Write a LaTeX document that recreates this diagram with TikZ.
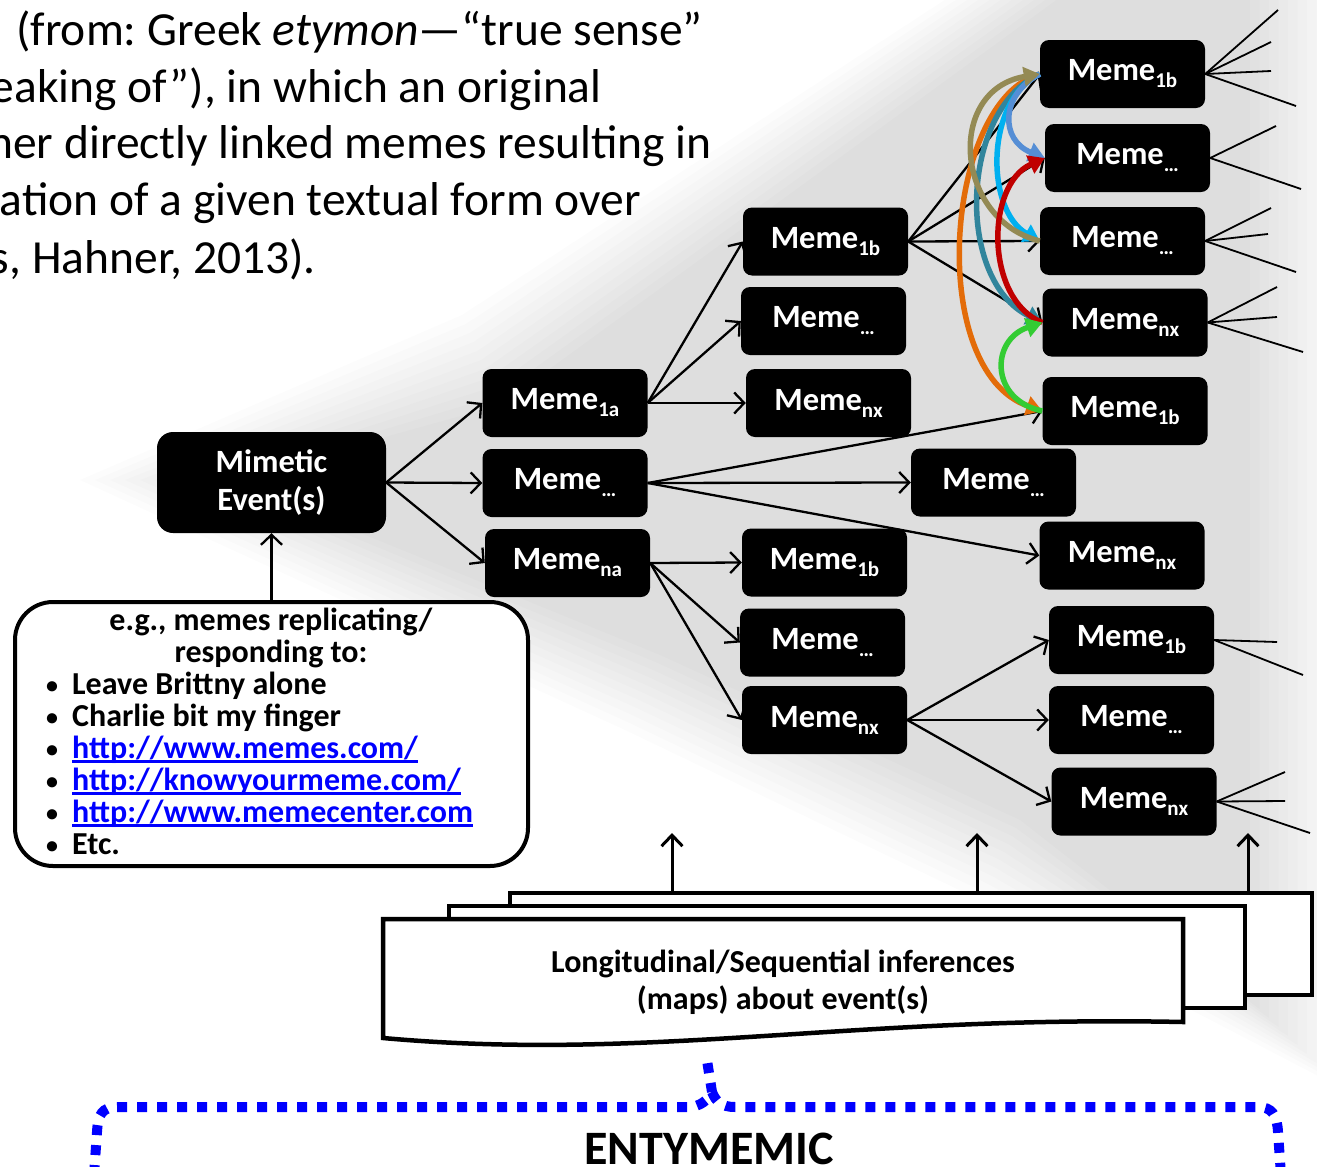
\documentclass[tikz,border=0pt]{standalone}
\usepackage{fontspec}
\setmainfont{Carlito}
\usetikzlibrary{arrows.meta,calc}
\definecolor{cOlive}{HTML}{948A54}
\definecolor{cOrange}{HTML}{E36C09}
\definecolor{cTeal}{HTML}{31859C}
\definecolor{cSky}{HTML}{00B0F0}
\definecolor{cCorn}{HTML}{558ED5}
\definecolor{cRed}{HTML}{C00000}
\definecolor{cGreen}{HTML}{33CC33}
\definecolor{linkblue}{HTML}{0000FF}
\frenchspacing
\newcommand\msub[1]{\raisebox{-7pt}{\fontsize{21}{21}\selectfont #1}}
\newcommand\myul[1]{\setbox0\hbox{#1}\rlap{\rule[-4.5pt]{\wd0}{2.4pt}}\box0}
\newcommand\bult{\makebox[26pt][l]{\raisebox{1pt}{\fontsize{24}{24}\selectfont •}}}
\begin{document}
\begin{tikzpicture}[x=1pt,y=-1pt,
  meme/.style={fill=black, rounded corners=9pt, minimum width=165pt, minimum height=68pt, inner sep=0pt, text=white, font=\bfseries\fontsize{32.5}{38}\selectfont},
  arr/.style={line width=2.3pt, -{Straight Barb[length=10pt,width=21pt]}},
  uparr/.style={line width=3pt, -{Straight Barb[length=11pt,width=21pt]}},
  fan/.style={line width=1.8pt},
  carr/.style={line width=5.5pt, -{Triangle[length=16pt,width=19pt]}},
  boxtxt/.style={inner sep=0pt, anchor=base, font=\bfseries\fontsize{32}{32}\selectfont},
  bul/.style={inner sep=0pt, anchor=base west, font=\bfseries\fontsize{32}{32}\selectfont},
  toptxt/.style={inner sep=0pt, anchor=base east, font=\fontsize{47.5}{57}\selectfont},
  doclayer/.style={line width=4.5pt, fill=white, line join=miter},
  brace/.style={draw=linkblue, line width=10pt, dash pattern=on 10pt off 10pt},
]
\fill[white] (0,0) rectangle (1317,1167);
\useasboundingbox (0,0) rectangle (1317,1167);

% soft gray shadow band
\coordinate (o1) at (960,-10);   \coordinate (i1) at (1070,-10);
\coordinate (o2) at (1345,-10);  \coordinate (i2) at (1250,-10);
\coordinate (o3) at (1345,1090); \coordinate (i3) at (1250,1000);
\coordinate (o4) at (980,900);   \coordinate (i4) at (1020,820);
\coordinate (o5) at (625,730);   \coordinate (i5) at (660,655);
\coordinate (o6) at (80,480);    \coordinate (i6) at (230,480);
\coordinate (o7) at (462,315);   \coordinate (i7) at (500,405);
\foreach \k in {0,...,10}{
  \fill[black, fill opacity=0.0101]
    ($(o1)!\k/10!(i1)$) -- ($(o2)!\k/10!(i2)$) -- ($(o3)!\k/10!(i3)$) --
    ($(o4)!\k/10!(i4)$) -- ($(o5)!\k/10!(i5)$) -- ($(o6)!\k/10!(i6)$) --
    ($(o7)!\k/10!(i7)$) -- cycle;
}

% top text
\node[toptxt] (p1) at (703,45) {(from: Greek \textit{etymon}—“true sense”};
\node[toptxt] (p2) at (602,102) {eaking of”), in which an original};
\node[toptxt] (p3) at (712,158) {her directly linked memes resulting in};
\node[toptxt] (p4) at (641,215) {ation of a given textual form over};
\node[toptxt] (p5) at (316,273) {s, Hahner, 2013).};

% nodes
\node[meme, minimum width=229pt, minimum height=101pt, rounded corners=16pt, align=center, font=\bfseries\fontsize{32.5}{38}\selectfont] (me) at (271.5,482.5) {Mimetic\\Event(s)};
\node[meme] (a1) at (565,403) {Meme\msub{1a}};
\node[meme] (a2) at (565,483) {Meme\msub{…}};
\node[meme] (a3) at (567.5,563) {Meme\msub{na}};
\node[meme] (b1) at (825.5,241.5) {Meme\msub{1b}};
\node[meme] (b2) at (823.5,321) {Meme\msub{…}};
\node[meme] (b3) at (828.5,403) {Meme\msub{nx}};
\node[meme] (b4) at (993.5,482.5) {Meme\msub{…}};
\node[meme] (b5) at (824.5,562.5) {Meme\msub{1b}};
\node[meme] (b6) at (822.5,642.5) {Meme\msub{…}};
\node[meme] (b7) at (824.5,720) {Meme\msub{nx}};
\node[meme] (c1) at (1122.5,74) {Meme\msub{1b}};
\node[meme] (c2) at (1127.5,158) {Meme\msub{…}};
\node[meme] (c3) at (1122.5,241) {Meme\msub{…}};
\node[meme] (c4) at (1125,322.5) {Meme\msub{nx}};
\node[meme] (c5) at (1125,411) {Meme\msub{1b}};
\node[meme] (c6) at (1122,555.5) {Meme\msub{nx}};
\node[meme] (c7) at (1131.5,640) {Meme\msub{1b}};
\node[meme] (c8) at (1131.5,720) {Meme\msub{…}};
\node[meme] (c9) at (1134,801.5) {Meme\msub{nx}};

% black connectors
\foreach \s/\t in {me/a1, me/a2, me/a3, a1/b1, a1/b2, a1/b3, a2/c5, a2/b4, a2/c6,
                   a3/b5, a3/b6, a3/b7, b1/c1, b1/c2, b1/c3, b1/c4, b7/c7, b7/c8, b7/c9}
  \draw[arr] (\s.east) -- (\t.west);

% fan lines
\coordinate (f11) at (1278,10);  \coordinate (f12) at (1271,42);
\coordinate (f13) at (1271,71);  \coordinate (f14) at (1296,106);
\coordinate (f21) at (1276,126); \coordinate (f22) at (1301,189);
\coordinate (f31) at (1271,208); \coordinate (f32) at (1268,234); \coordinate (f33) at (1296,272);
\coordinate (f41) at (1277,287); \coordinate (f42) at (1277,317); \coordinate (f43) at (1303,352);
\coordinate (f71) at (1277,642); \coordinate (f72) at (1303,675);
\coordinate (f91) at (1285,772); \coordinate (f92) at (1285,801); \coordinate (f93) at (1310,833);
\foreach \n/\f in {c1/f11, c1/f12, c1/f13, c1/f14, c2/f21, c2/f22, c3/f31, c3/f32, c3/f33,
                   c4/f41, c4/f42, c4/f43, c7/f71, c7/f72, c9/f91, c9/f92, c9/f93}
  \draw[fan] (\n.east) -- (\f);

% coloured curved arrows
\draw[carr, cOrange] (c1.west) .. controls (945,100) and (925,370) .. (c5.west);
\draw[carr, cTeal] (c1.west) .. controls (960,110) and (955,280) .. (c4.west);
\draw[carr, cSky] (c1.west) .. controls (985,100) and (985,210) .. (c3.west);
\draw[carr, cCorn] (c1.west) .. controls (1000,95) and (1000,140) .. (c2.west);
\draw[carr, cOlive] (c3.west) .. controls (955,220) and (945,90) .. (c1.west);
\draw[carr, cRed] (c4.west) .. controls (985,300) and (985,185) .. (c2.west);
\draw[carr, cGreen] (c5.west) .. controls (990,400) and (990,340) .. (c4.west);

% examples box
\node[draw, line width=4pt, rounded corners=38pt, fill=white, minimum width=513pt, minimum height=264pt, inner sep=0pt] (eg) at (271.5,734) {};
\draw[arr] (eg.north) -- (me.south);
\node[boxtxt] (t1) at (271,630) {e.g., memes replicating/};
\node[boxtxt] (t2) at (271,662) {responding to:};
\node[bul] (l1) at (46,694) {\bult Leave Brittny alone};
\node[bul] (l2) at (46,726) {\bult Charlie bit my finger};
\node[bul] (l3) at (46,758) {\bult\textcolor{linkblue}{\myul{http://www.memes.com/}}};
\node[bul] (l4) at (46,790) {\bult\textcolor{linkblue}{\myul{http://knowyourmeme.com/}}};
\node[bul] (l5) at (46,822) {\bult\textcolor{linkblue}{\myul{http://www.memecenter.com}}};
\node[bul] (l6) at (46,854) {\bult Etc.};

% stacked documents
\draw[doclayer] (510,893) rectangle (1312,995);
\draw[doclayer] (449,906) rectangle (1245,1008);
\draw[doclayer] (383,1038) -- (383,919) -- (1183,919) -- (1183,1022)
   .. controls (850,1015) and (650,1062) .. cycle;
\node[boxtxt] (d1) at (783,972) {Longitudinal/Sequential inferences};
\node[boxtxt] (d2) at (783,1009) {(maps) about event(s)};

\coordinate (u1) at (672,893);  \coordinate (v1) at (672,833);
\coordinate (u2) at (977,893);  \coordinate (v2) at (977,833);
\coordinate (u3) at (1248,893); \coordinate (v3) at (1248,833);
\draw[uparr] (u1) -- (v1);
\draw[uparr] (u2) -- (v2);
\draw[uparr] (u3) -- (v3);

% dotted blue brace
\coordinate (tip) at (706,1054);
\coordinate (mid) at (712,1092);
\draw[brace] (94,1175) -- (97,1132) .. controls (98,1114) and (102,1107) .. (118,1107)
   -- (688,1107) .. controls (700,1107) and (708,1100) .. (mid) -- (tip);
\draw[brace] (mid) .. controls (716,1102) and (722,1107) .. (735,1107)
   -- (1258,1107) .. controls (1272,1107) and (1277,1115) .. (1278,1132) -- (1281,1175);
\node[inner sep=0pt, anchor=base, font=\bfseries\fontsize{48}{50}\selectfont] (ent) at (709,1164) {ENTYMEMIC};
\end{tikzpicture}
\end{document}
